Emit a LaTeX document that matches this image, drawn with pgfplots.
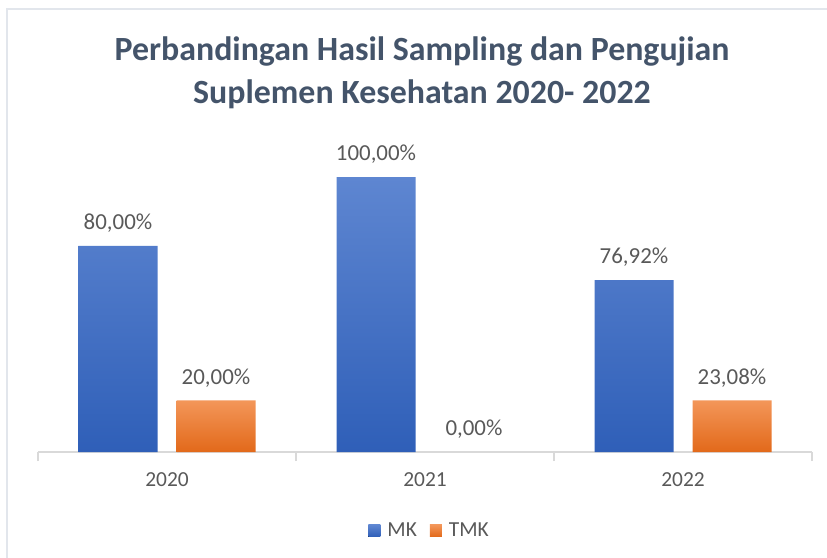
\documentclass[border=0pt]{standalone}
\usepackage{pgfplots}
\pgfplotsset{compat=1.18}
\usepackage{fontspec}
\setmainfont{Carlito}
\definecolor{titlec}{HTML}{44546A}
\definecolor{labc}{HTML}{595959}
\definecolor{axc}{HTML}{D9D9D9}
\definecolor{frc}{HTML}{E2E6EC}
\definecolor{mktop}{HTML}{5E86D1}
\definecolor{mkbot}{HTML}{2F5FB8}
\definecolor{tmktop}{HTML}{F39659}
\definecolor{tmkbot}{HTML}{E2691A}
\begin{document}
\begin{tikzpicture}
\useasboundingbox (0,0) rectangle (827bp,558bp);
\draw[frc, line width=1.5bp] (7bp,0) -- (7bp,549bp) -- (827bp,549bp);
\node[text=titlec, align=center, font=\fontsize{34}{43}\selectfont\bfseries] at (422bp,485bp)
  {Perbandingan Hasil Sampling dan Pengujian\\Suplemen Kesehatan 2020- 2022};
\begin{axis}[
  at={(38bp,106bp)}, anchor=south west,
  width=774bp, height=292bp, scale only axis,
  xmin=-0.5, xmax=2.5, ymin=0, ymax=17,
  clip=false,
  axis x line*=bottom, axis y line=none,
  axis line style={axc, line width=1.5bp, -},
  xtick={0,1,2}, xticklabels={2020,2021,2022},
  major tick length=0pt,
  minor xtick={-0.5,0.5,1.5,2.5},
  minor tick length=9bp,
  tick align=outside,
  minor tick style={axc, line width=1.5bp},
  x tick label style={text=labc, font=\fontsize{21.5}{24}\selectfont, yshift=-17bp},
  ybar, bar width=79bp,
  point meta=explicit symbolic,
  nodes near coords,
  nodes near coords style={anchor=south, text=labc, font=\fontsize{23}{26}\selectfont, yshift=10bp},
  legend columns=2,
  legend style={at={(0.506,-0.27)}, anchor=center, draw=none, fill=none,
    font=\fontsize{21.5}{24}\selectfont, text=labc,
    /tikz/every odd column/.append style={column sep=5bp},
    /tikz/every even column/.append style={column sep=11bp}},
  legend image code/.code={\fill[#1] (0bp,-6bp) rectangle (12bp,6bp);},
]
\addplot[draw=none, top color=mktop, bottom color=mkbot, bar shift=-49bp] coordinates {
  (0,12) [80,00\%]
  (1,16) [100,00\%]
  (2,10) [76,92\%]
};
\addplot[draw=none, top color=tmktop, bottom color=tmkbot, bar shift=49bp] coordinates {
  (0,3) [20,00\%]
  (2,3) [23,08\%]
};
\addplot[draw=none, fill=none, bar shift=49bp, forget plot] coordinates {
  (1,0) [0,00\%]
};
\legend{MK,TMK}
\end{axis}
\end{tikzpicture}
\end{document}
